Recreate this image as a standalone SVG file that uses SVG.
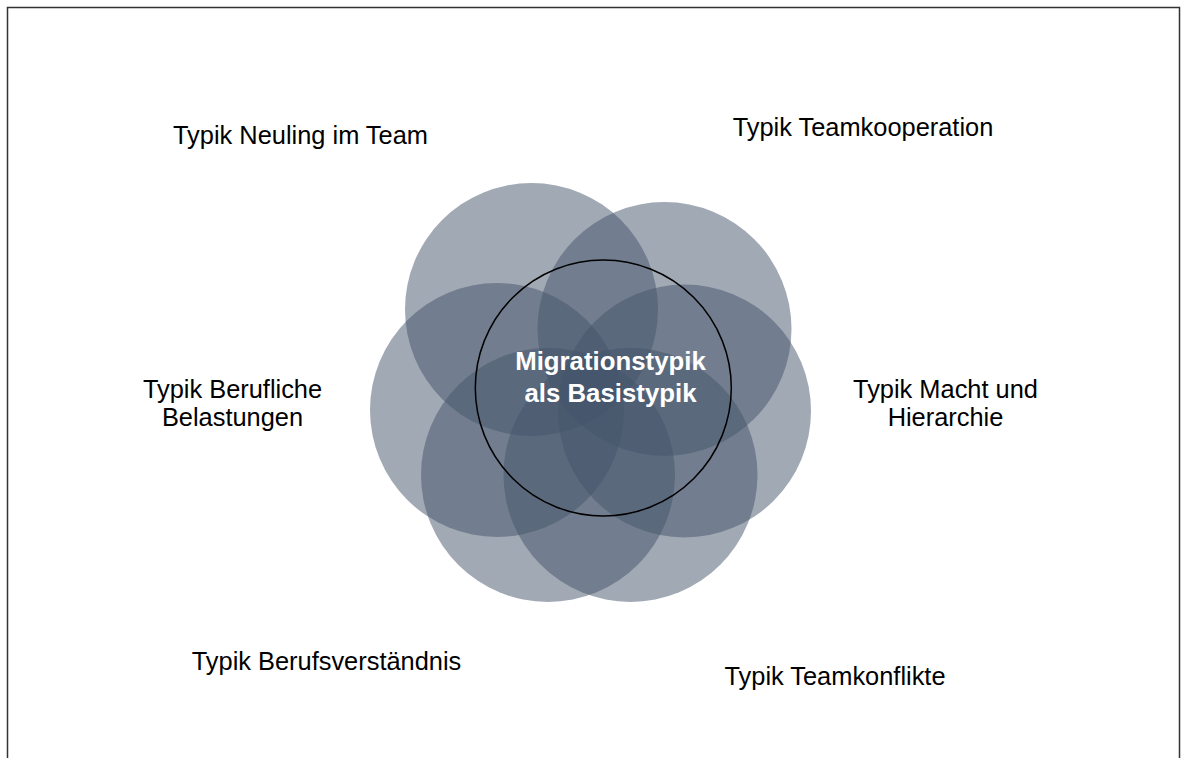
<svg xmlns="http://www.w3.org/2000/svg" width="1181" height="758" viewBox="0 0 1181 758">
<style>
.petal{fill:#44546A;fill-opacity:0.5;stroke:none}
.lbl{font-family:"Liberation Sans",Arial,sans-serif;font-size:25.4px;fill:#000;text-anchor:middle}
.core{fill:none;stroke:#000;stroke-width:1.5}
.coretxt{font-family:"Liberation Sans",Arial,sans-serif;font-size:25.8px;font-weight:bold;fill:#fff;text-anchor:middle}
</style>
<rect x="0" y="0" width="1181" height="758" fill="#fff"/>
<path d="M7.5,758 V7.5 H1179.5 V758" fill="none" stroke="#333" stroke-width="1.5"/>
<g id="connectors"/>
<g id="node-neuling">
<circle class="petal" cx="531.5" cy="309.5" r="126.5"/>
<text class="lbl" x="300.5" y="144">Typik Neuling im Team</text>
</g>
<g id="node-teamkooperation">
<circle class="petal" cx="664.5" cy="329" r="127"/>
<text class="lbl" x="863" y="136">Typik Teamkooperation</text>
</g>
<g id="node-belastungen">
<circle class="petal" cx="497" cy="410" r="127"/>
<text class="lbl" x="232.5" y="398">Typik Berufliche</text>
<text class="lbl" x="232.5" y="426">Belastungen</text>
</g>
<g id="node-macht">
<circle class="petal" cx="684.5" cy="411" r="126.5"/>
<text class="lbl" x="945.5" y="398">Typik Macht und</text>
<text class="lbl" x="945.5" y="426">Hierarchie</text>
</g>
<g id="node-berufsverstaendnis">
<circle class="petal" cx="548" cy="475" r="127"/>
<text class="lbl" x="326.5" y="670">Typik Berufsverständnis</text>
</g>
<g id="node-teamkonflikte">
<circle class="petal" cx="630.5" cy="475" r="127"/>
<text class="lbl" x="835" y="685">Typik Teamkonflikte</text>
</g>
<g id="node-migration">
<circle class="core" cx="603.3" cy="388" r="128"/>
<text class="coretxt" x="610.5" y="370">Migrationstypik</text>
<text class="coretxt" x="610.5" y="402">als Basistypik</text>
</g>
</svg>
